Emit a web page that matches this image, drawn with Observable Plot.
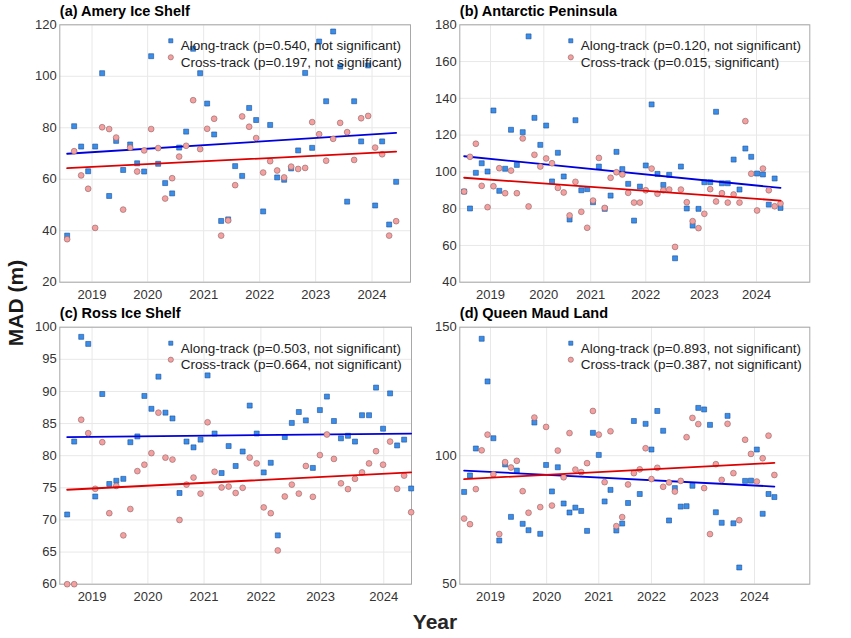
<!DOCTYPE html>
<html><head><meta charset="utf-8">
<script src="https://cdn.jsdelivr.net/npm/d3@7"></script>
<script src="https://cdn.jsdelivr.net/npm/@observablehq/plot@0.6"></script>
<style>
body{margin:0;background:#fff;font-family:"Liberation Sans",Arial,sans-serif;}
#wrap{position:relative;width:851px;height:638px;overflow:hidden;background:#fff;}
.panel{position:absolute;}
.panel svg{overflow:visible;}
#ylab{position:absolute;left:16px;top:303px;transform:translate(-50%,-50%) rotate(-90deg);font-weight:bold;font-size:21px;color:#1a1a1a;white-space:nowrap;}
#xlab{position:absolute;left:435px;top:622px;transform:translate(-50%,-50%);font-weight:bold;font-size:21px;color:#262626;white-space:nowrap;}
</style></head><body>
<div id="wrap"><div id="ylab">MAD (m)</div><div id="xlab">Year</div></div>
<script>
const yearLabels = ["2019","2020","2021","2022","2023","2024"];

// (a) Amery Ice Shelf
const titleA = "(a) Amery Ice Shelf";
const legendA = ["Along-track (p=0.540, not significant)", "Cross-track (p=0.197, not significant)"];
const alongA = [38.1,80.6,72.7,63.1,72.7,101.2,53.5,74.9,63.6,73.5,66.2,63.0,107.8,66.0,58.5,54.5,72.3,78.5,110.7,101.2,89.4,77.4,43.8,44.4,65.1,61.3,87.7,83.0,47.5,81.1,60.7,59.8,64.2,71.2,101.3,72.2,113.5,90.3,117.4,103.8,51.3,90.3,74.7,104.2,49.8,74.7,42.4,59.0];
const crossA = [36.7,70.9,61.5,56.3,41.1,80.2,79.5,76.2,48.2,72.3,63.0,71.2,79.5,72.1,52.5,60.4,68.8,73.0,90.7,71.7,79.6,83.5,38.1,44.0,57.7,84.4,80.4,76.0,62.6,67.0,63.4,60.7,64.9,64.0,64.4,82.2,77.5,67.2,75.7,81.9,78.3,67.5,83.7,84.6,72.3,69.7,38.1,43.7];
const trendAlongA = [69.9, 78.0];
const trendCrossA = [64.3, 70.7];
const yTicksA = [20,40,60,80,100,120];
const xTicksA = [3.55,11.5,19.5,27.5,35.5,43.55];

// (b) Antarctic Peninsula
const titleB = "(b) Antarctic Peninsula";
const legendB = ["Along-track (p=0.120, not significant)", "Cross-track (p=0.015, significant)"];
const alongB = [89.3,80.1,99.5,104.7,100.2,133.4,89.7,101.7,122.9,103.8,121.6,173.7,129.4,114.7,125.2,94.8,110.4,97.5,74.1,128.1,90.0,90.6,83.5,102.9,79.9,87.1,110.9,101.5,93.5,73.5,92.0,103.5,136.7,98.9,92.9,98.4,53.0,102.9,80.1,70.8,79.9,94.4,94.4,132.7,93.8,93.8,106.7,90.4,112.7,108.2,99.1,98.6,82.2,96.4,80.4];
const crossB = [89.3,108.2,115.3,92.4,80.8,92.2,102.0,88.4,100.7,88.4,118.2,81.2,109.3,102.9,107.3,104.7,91.3,88.8,76.3,94.6,78.3,69.6,84.4,107.6,80.4,96.8,99.8,98.6,88.6,83.3,83.3,90.0,101.8,88.1,90.0,90.4,59.2,90.4,83.5,73.2,69.4,77.2,90.6,83.9,88.4,83.3,87.7,83.3,127.6,99.0,79.0,101.8,90.0,81.3,82.8];
const trendAlongB = [108.5, 91.3];
const trendCrossB = [96.8, 84.4];
const yTicksB = [40,60,80,100,120,140,160,180];
const xTicksB = [4.5,13.6,21.6,31.0,41.0,49.9];

// (c) Ross Ice Shelf
const titleC = "(c) Ross Ice Shelf";
const legendC = ["Along-track (p=0.503, not significant)", "Cross-track (p=0.664, not significant)"];
const alongC = [70.85,82.2,98.5,97.4,73.65,89.6,75.6,76.1,76.4,82.1,83.0,89.3,87.3,92.3,86.7,85.8,74.2,82.2,81.3,82.5,92.5,83.45,77.3,81.5,78.4,80.65,87.8,83.45,77.4,78.9,67.6,82.9,85.1,86.8,85.5,78.1,87.1,89.2,85.4,82.7,83.1,82.2,86.3,86.3,90.6,84.2,89.7,81.6,82.5,74.9];
const crossC = [60.0,60.0,85.6,83.5,74.85,82.1,71.05,75.3,67.6,71.7,77.6,78.6,80.4,86.7,79.7,79.4,70.0,75.5,76.6,74.1,85.2,77.5,75.05,75.2,74.2,75.0,79.7,78.8,71.95,71.05,65.25,73.65,75.5,74.1,78.4,73.6,80.1,83.3,79.5,75.7,74.8,76.4,77.4,78.8,80.7,78.6,82.2,74.85,76.9,71.2];
const trendAlongC = [82.9, 83.45];
const trendCrossC = [74.7, 77.4];
const yTicksC = [60,65,70,75,80,85,90,95,100];
const xTicksC = [3.55,11.5,19.5,27.6,36.1,45.1];

// (d) Queen Maud Land
const titleD = "(d) Queen Maud Land";
const legendD = ["Along-track (p=0.893, not significant)", "Cross-track (p=0.387, not significant)"];
const alongD = [85.9,92.3,102.8,145.5,128.9,106.8,67.0,96.6,76.2,94.2,73.5,71.0,112.9,69.6,96.4,86.1,95.5,81.4,77.9,79.8,78.5,70.75,108.9,100.3,82.2,86.7,70.9,73.6,81.6,113.5,85.1,112.4,102.4,117.4,109.7,74.8,87.4,80.2,80.35,88.3,118.6,118.0,112.0,78.0,73.9,115.5,73.7,56.5,90.2,90.3,102.4,77.4,85.1,83.9];
const crossD = [75.55,73.35,87.0,102.1,108.2,92.8,69.5,97.5,95.4,98.0,86.2,77.8,114.85,80.0,111.2,80.6,102.0,91.6,108.8,94.6,93.6,97.1,117.4,108.2,89.7,109.5,72.6,76.1,88.8,93.2,94.7,102.9,90.9,95.3,87.9,89.6,86.05,90.2,107.2,114.7,112.3,87.4,69.5,96.7,90.6,112.4,93.2,74.9,106.2,100.7,89.95,99.0,107.8,92.5];
const trendAlongD = [94.2, 88.0];
const trendCrossD = [90.9, 97.2];
const yTicksD = [50,100,150];
const xTicksD = [4.5,14.1,23.0,32.0,41.0,49.6];

const BLUE_FILL = "#3a8ee8", BLUE_EDGE = "#1d4f9a";
const RED_FILL = "#f5a0a0", RED_EDGE = "#8c6464";
const FONT = "Liberation Sans, Arial, Helvetica, sans-serif";

function panel(cfg) {
  const A = cfg.along.map((v, i) => ({i, v}));
  const C = cfg.cross.map((v, i) => ({i, v}));
  const n = cfg.along.length;
  const tA = [{i: 0, v: cfg.trendAlong[0]}, {i: n - 1, v: cfg.trendAlong[1]}];
  const tC = [{i: 0, v: cfg.trendCross[0]}, {i: n - 1, v: cfg.trendCross[1]}];
  const labelMap = new Map(cfg.xTicks.map((t, k) => [t, yearLabels[k]]));
  const svg = Plot.plot({
    width: 425, height: 305,
    marginLeft: 59.3, marginRight: cfg.mr, marginTop: cfg.mt, marginBottom: cfg.mb,
    x: {domain: cfg.xDomain},
    y: {domain: cfg.yDomain},
    style: {fontFamily: FONT, fontSize: "13px", color: "#333", overflow: "visible", background: "none"},
    marks: [
      Plot.gridX(cfg.xTicks, {stroke: "#e8e8e8", strokeOpacity: 1}),
      Plot.gridY(cfg.yTicks, {stroke: "#e8e8e8", strokeOpacity: 1}),
      Plot.axisX(cfg.xTicks, {tickSize: 0, tickPadding: 8, tickFormat: d => labelMap.get(d), label: null, fontSize: 13, fill: "#333"}),
      Plot.axisY(cfg.yTicks, {tickSize: 0, tickPadding: 3, label: null, fontSize: 13, fill: "#333"}),
      Plot.frame({stroke: "#a8a8a8"}),
      Plot.dot(A, {x: "i", y: "v", symbol: "square", r: 2.8, fill: BLUE_FILL, stroke: BLUE_EDGE, strokeWidth: 0.6}),
      Plot.line(tA, {x: "i", y: "v", stroke: "#0000dd", strokeWidth: 1.8}),
      Plot.dot(C, {x: "i", y: "v", r: 2.9, fill: RED_FILL, stroke: RED_EDGE, strokeWidth: 0.6}),
      Plot.line(tC, {x: "i", y: "v", stroke: "#dd0000", strokeWidth: 1.8}),
      Plot.dot([cfg.legend[0]], {frameAnchor: "top-left", dx: 111, dy: 16, symbol: "square", r: 2.3, fill: BLUE_FILL, stroke: BLUE_EDGE, strokeWidth: 0.6}),
      Plot.dot([cfg.legend[1]], {frameAnchor: "top-left", dx: 111, dy: 32.5, r: 2.6, fill: RED_FILL, stroke: RED_EDGE, strokeWidth: 0.6}),
      Plot.text([cfg.legend[0]], {frameAnchor: "top-left", dx: 121, dy: 16, text: d => d, textAnchor: "start", fontSize: 13.5, fill: "#222"}),
      Plot.text([cfg.legend[1]], {frameAnchor: "top-left", dx: 121, dy: 32.5, text: d => d, textAnchor: "start", fontSize: 13.5, fill: "#222"}),
      Plot.text([cfg.title], {frameAnchor: "top-left", dy: -9, text: d => d, textAnchor: "start", lineAnchor: "bottom", fontSize: 14.5, fontWeight: "bold", fill: "#000"})
    ]
  });
  const div = document.createElement("div");
  div.className = "panel";
  div.style.left = cfg.left + "px";
  div.style.top = cfg.top + "px";
  div.appendChild(svg);
  document.getElementById("wrap").appendChild(div);
}

panel({title: titleA, legend: legendA, along: alongA, cross: crossA, trendAlong: trendAlongA, trendCross: trendCrossA,
  yDomain: [20, 120], yTicks: yTicksA, xDomain: [-1.05, 49.05], xTicks: xTicksA, left: 0, top: 0, mt: 24.3, mb: 23.3, mr: 15});
panel({title: titleB, legend: legendB, along: alongB, cross: crossB, trendAlong: trendAlongB, trendCross: trendCrossB,
  yDomain: [40, 180], yTicks: yTicksB, xDomain: [-0.74, 59.0], xTicks: xTicksB, left: 400, top: 0, mt: 24.3, mb: 23.3, mr: 15.7});
panel({title: titleC, legend: legendC, along: alongC, cross: crossC, trendAlong: trendAlongC, trendCross: trendCrossC,
  yDomain: [60, 100], yTicks: yTicksC, xDomain: [-1.05, 49.05], xTicks: xTicksC, left: 0, top: 300, mt: 26.7, mb: 21.3, mr: 14});
panel({title: titleD, legend: legendD, along: alongD, cross: crossD, trendAlong: trendAlongD, trendCross: trendCrossD,
  yDomain: [50, 150], yTicks: yTicksD, xDomain: [-0.74, 59.05], xTicks: xTicksD, left: 400, top: 300, mt: 26.7, mb: 21.3, mr: 15.7});
</script>
</body></html>
